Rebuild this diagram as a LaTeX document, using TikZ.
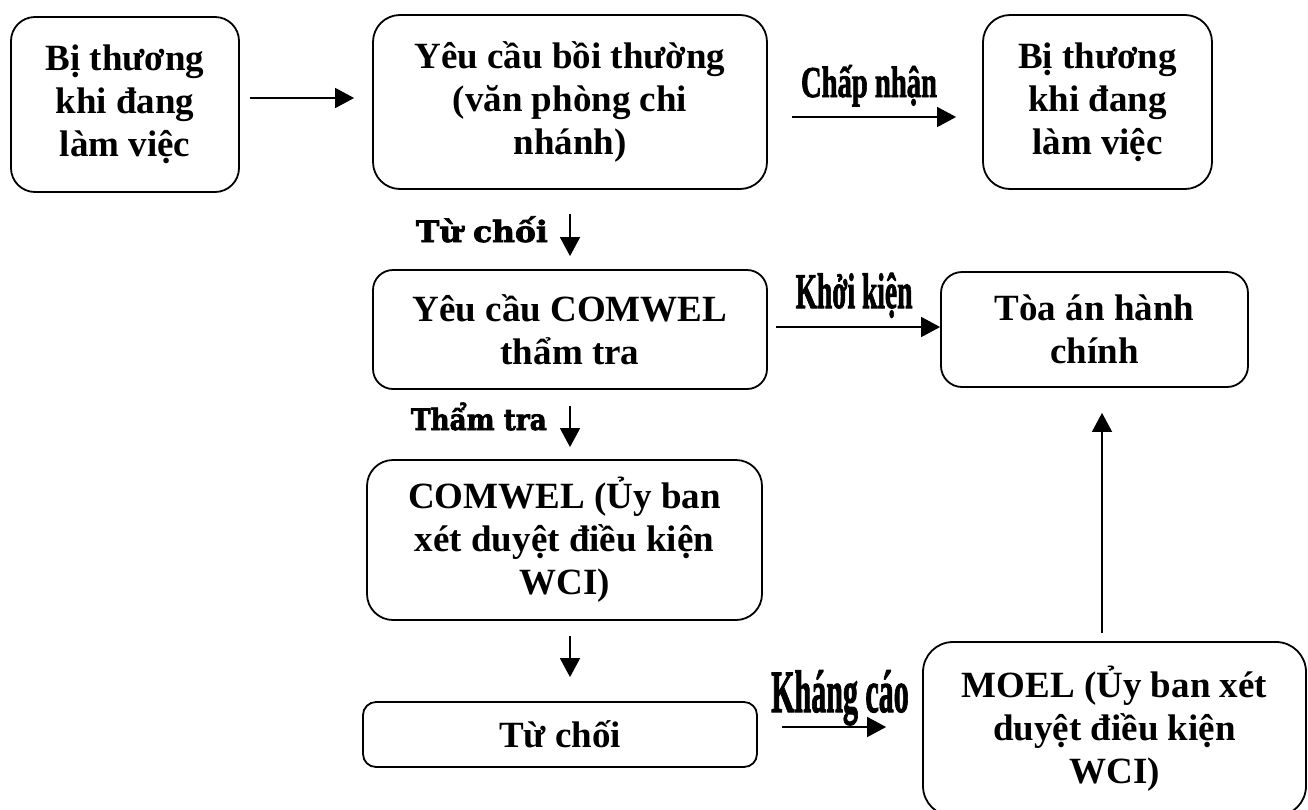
\documentclass[tikz,border=0pt]{standalone}
\usepackage{fontspec}
\usepackage{graphicx}
\setmainfont{Liberation Serif}
\newfontfamily\condfont{Liberation Serif}[UprightFont={* Bold}, FakeBold=2]
\newfontfamily\heavyfont{DejaVu Serif}[UprightFont={* Bold}, FakeBold=2.5]
\usetikzlibrary{arrows.meta,calc}
\tikzset{
  box/.style={draw, line width=1.8pt, align=center, inner sep=0pt,
    font=\bfseries\fontsize{37}{43}\selectfont},
  arr/.style={line width=1.6pt, -{Triangle[length=19pt,width=20pt]}},
  condlab/.style={inner sep=0pt, anchor=base},
  heavylab/.style={inner sep=0pt, anchor=base east, font=\heavyfont\fontsize{28}{30}\selectfont},
}
\begin{document}
\begin{tikzpicture}[x=1pt,y=-1pt]
\useasboundingbox (0,0) rectangle (1308,809);
% boxes
\node[box, minimum width=228pt, minimum height=175pt, rounded corners=24pt] (A) at (125,104.5) {Bị thương\\khi đang\\làm việc};
\node[box, minimum width=394pt, minimum height=174pt, rounded corners=27pt] (B) at (570,102) {Yêu cầu bồi thường\\(văn phòng chi\\nhánh)};
\node[box, minimum width=229pt, minimum height=174pt, rounded corners=27pt] (C) at (1097.5,102) {Bị thương\\khi đang\\làm việc};
\node[box, minimum width=394pt, minimum height=119pt, rounded corners=20pt] (D) at (570,329.5) {Yêu cầu COMWEL\\thẩm tra};
\node[box, minimum width=307pt, minimum height=115pt, rounded corners=21pt] (E) at (1094.5,329.5) {Tòa án hành\\chính};
\node[box, minimum width=395pt, minimum height=160pt, rounded corners=26pt] (F) at (564.5,540) {COMWEL (Ủy ban\\xét duyệt điều kiện\\WCI)};
\node[box, minimum width=394pt, minimum height=65pt, rounded corners=13pt] (G) at (560,734.5) {Từ chối};
\node[box, minimum width=383pt, minimum height=174pt, rounded corners=30pt] (H) at (1114.5,729) {MOEL (Ủy ban xét\\duyệt điều kiện\\WCI)};
% connectors
\draw[arr, shorten <=10pt, shorten >=18pt] ([yshift=6.5pt]A.east) -- ([yshift=6.5pt]A.east -| B.west);
\draw[arr, shorten <=24pt, shorten >=26pt] ([yshift=-15pt]B.east) -- ([yshift=-15pt]B.east -| C.west);
\draw[arr, shorten <=24pt, shorten >=13pt] (B.south) -- (D.north);
\draw[arr, shorten <=8pt] ([yshift=2.5pt]D.east) -- ([yshift=2.5pt]D.east -| E.west);
\draw[arr, shorten <=16pt, shorten >=12pt] (D.south) -- (D.south |- F.north);
\draw[arr, shorten <=15pt, shorten >=24pt] (D.south |- F.south) -- (D.south |- G.north);
\draw[arr, shorten <=24pt, shorten >=36pt] ([yshift=7.5pt]G.east) -- ([yshift=7.5pt]G.east -| H.west);
\draw[arr, shorten <=8pt, shorten >=25pt] ([xshift=-12.5pt]H.north) -- ([xshift=-12.5pt]H.north |- E.south);
% labels
\node[condlab] (l1) at (869,97) {\condfont\fontsize{44}{46}\selectfont\scalebox{0.65}[1]{Chấp nhận}};
\node[condlab] (l2) at (854,308) {\condfont\fontsize{50}{52}\selectfont\scalebox{0.55}[1]{Khởi kiện}};
\node[condlab] (l3) at (840,712) {\condfont\fontsize{60}{62}\selectfont\scalebox{0.5}[1]{Kháng cáo}};
\node[heavylab] (l4) at (548,242) {\scalebox{1.12}[1.05]{Từ chối}};
\node[heavylab] (l5) at (547,430) {\scalebox{0.94}[1.05]{Thẩm tra}};
\end{tikzpicture}
\end{document}
